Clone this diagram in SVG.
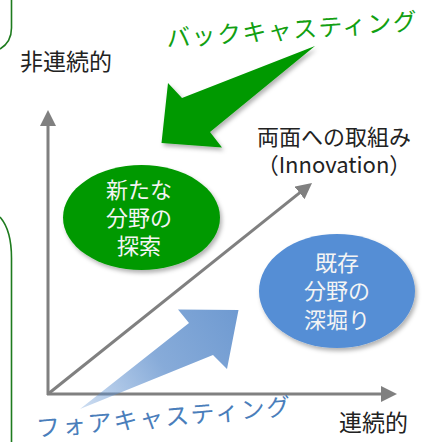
<svg xmlns="http://www.w3.org/2000/svg" width="424" height="442" viewBox="0 0 424 442">
  <style>
    text { font-family: "Noto Sans CJK JP", "Noto Sans", sans-serif; }
    .lbl { font-size: 23px; fill: #222; }
    .in { font-size: 22px; fill: #f4f4f4; text-anchor: middle; }
    .axis { stroke: #808080; stroke-width: 3; fill: none; marker-end: url(#ah); }
    .bracket { stroke: #1E7B1E; stroke-width: 1.6; fill: none; }
  </style>
  <defs>
    <marker id="ah" markerUnits="userSpaceOnUse" markerWidth="16" markerHeight="16" viewBox="0 0 16 16" refX="2" refY="8" orient="auto">
      <path d="M0,0 L16,8 L0,16 z" fill="#808080"/>
    </marker>
    <filter id="sh" x="-20%" y="-20%" width="140%" height="140%">
      <feDropShadow dx="2" dy="3" stdDeviation="2" flood-color="#000" flood-opacity="0.3"/>
    </filter>
    <linearGradient id="bg" gradientUnits="userSpaceOnUse" x1="80" y1="409" x2="238" y2="310">
      <stop offset="0" stop-color="#5b8fd0" stop-opacity="0.3"/>
      <stop offset="0.5" stop-color="#5f8fcc" stop-opacity="0.75"/>
      <stop offset="1" stop-color="#5f8fcc" stop-opacity="0.9"/>
    </linearGradient>
  </defs>

  <g id="brackets">
    <path class="bracket" d="M11.5,0 V28 C11.5,40 5,46 0,49"/>
    <path class="bracket" d="M0,217 C7,225 11.5,240 11.5,258 V442"/>
  </g>

  <g id="connectors">
    <line class="axis" x1="48" y1="395" x2="48" y2="124"/>
    <line class="axis" x1="47" y1="394" x2="383" y2="394"/>
    <line class="axis" x1="48" y1="394" x2="301.1" y2="191.7"/>
  </g>

  <g id="backcasting-arrow">
    <polygon points="315,46 182,98 168,83 161.5,143 222,147.5 210,132" fill="#009900" filter="url(#sh)"/>
  </g>

  <g id="forecasting-arrow">
    <polygon points="80,409 189,323 178,309.5 238.5,310 227,369 213,355" fill="url(#bg)"/>
  </g>

  <g id="node-new">
    <ellipse cx="141.5" cy="217.5" rx="78.5" ry="52.5" fill="#009900" filter="url(#sh)"/>
    <text class="in" x="139" y="198">新たな</text>
    <text class="in" x="139" y="226">分野の</text>
    <text class="in" x="139" y="254">探索</text>
  </g>

  <g id="node-existing">
    <ellipse cx="337" cy="291" rx="78" ry="57" fill="#558ED5" filter="url(#sh)"/>
    <text class="in" x="337" y="271">既存</text>
    <text class="in" x="337" y="299">分野の</text>
    <text class="in" x="337" y="328">深堀り</text>
  </g>

  <g id="labels">
    <text class="lbl" x="20" y="70">非連続的</text>
    <text class="lbl" x="339" y="431">連続的</text>
    <text class="lbl" x="334" y="145" text-anchor="middle" style="font-size:22px">両面への取組み</text>
    <text class="lbl" x="334" y="173" text-anchor="middle" style="font-size:22px">（Innovation）</text>
    <text x="167" y="47" transform="rotate(-4 167 47)" font-size="24" fill="#12A012" textLength="251">バックキャスティング</text>
    <text x="37" y="437" transform="rotate(-5 37 437)" font-size="24" fill="#4A7EBB" textLength="255">フォアキャスティング</text>
  </g>
</svg>
